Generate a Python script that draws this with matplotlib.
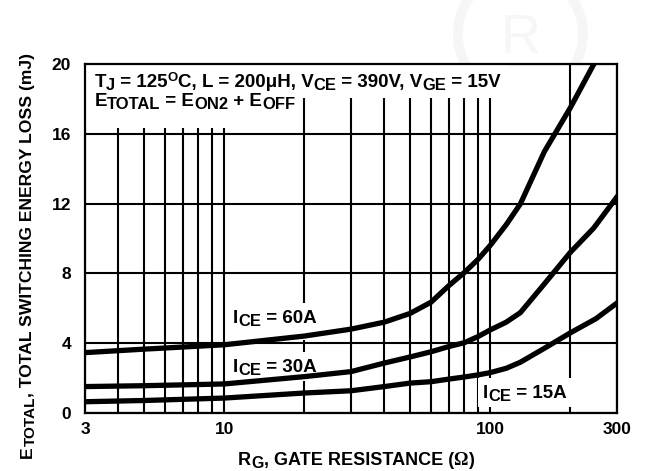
import matplotlib.pyplot as plt
from matplotlib.font_manager import FontProperties
from matplotlib.patches import Ellipse, Rectangle
from matplotlib.transforms import Affine2D, Bbox, IdentityTransform

plt.rcParams['font.family'] = ['Liberation Sans', 'DejaVu Sans']
plt.rcParams['font.weight'] = 'bold'

# gate resistance (ohm) vs total switching energy loss (mJ)
rg_60 = [3, 5, 10, 20, 30, 40, 50, 60, 70, 80, 90, 100, 115, 130, 160, 200, 245]
e_60 = [3.45, 3.65, 3.9, 4.4, 4.8, 5.2, 5.7, 6.35, 7.3, 8.05, 8.8, 9.6, 10.8, 12.0, 15.0, 17.5, 20.0]

rg_30 = [3, 5, 10, 20, 30, 40, 50, 60, 70, 80, 90, 100, 115, 130, 160, 200, 245, 300]
e_30 = [1.5, 1.55, 1.65, 2.07, 2.36, 2.85, 3.2, 3.5, 3.8, 4.02, 4.37, 4.75, 5.2, 5.75, 7.4, 9.2, 10.6, 12.4]

rg_15 = [3, 5, 10, 20, 30, 40, 50, 60, 70, 80, 90, 100, 115, 130, 160, 200, 250, 300]
e_15 = [0.63, 0.7, 0.84, 1.13, 1.26, 1.5, 1.7, 1.78, 1.93, 2.05, 2.17, 2.3, 2.55, 2.9, 3.7, 4.58, 5.4, 6.3]

x_ticks = [3, 10, 100, 300]
y_ticks = [0, 4, 8, 12, 16, 20]

fig = plt.figure(figsize=(6.48, 4.71), dpi=100)
ax = fig.add_axes([0.1312, 0.1238, 0.821, 0.7393])

# faint registered-mark watermark
fig.add_artist(Ellipse((0.803, 0.928), 0.193, 0.265, transform=fig.transFigure,
                       fill=False, ec='#f6f6f6', lw=7, zorder=-5))
fig.text(0.803, 0.918, 'R', fontsize=40, color='#f6f6f6', ha='center', va='center',
         fontweight='normal', zorder=-5)

for rg, e in [(rg_60, e_60), (rg_30, e_30), (rg_15, e_15)]:
    ax.plot(rg, e, color='black', lw=3.8, zorder=4)

ax.set_xscale('log')
ax.set_xlim(3, 300)
ax.set_ylim(0, 20)
ax.set_xticks(x_ticks)
ax.set_xticklabels([str(t) for t in x_ticks])
ax.set_yticks(y_ticks)
ax.grid(which='both', color='black', lw=1.5)
ax.tick_params(which='both', length=0, labelsize=12.5)
ax.tick_params(axis='y', pad=10)
ax.tick_params(axis='x', pad=7)
for s in ax.spines.values():
    s.set_linewidth(1.6)

renderer = fig.canvas.get_renderer()
k = fig.dpi / 72


def advance(s, fp):
    # width including side bearings and spaces, measured between two bars
    w1 = renderer.get_text_width_height_descent('|' + s + '|', fp, False)[0]
    w0 = renderer.get_text_width_height_descent('||', fp, False)[0]
    return w1 - w0


def rich(x, y, parts, size, transform, rotation=0, pad=None):
    """Draw text pieces side by side; kind is 'n', 'sub' or 'sup'.
    pad = (left, bottom, right, top) in pixels for a white backing box."""
    adv = 0.0
    bbs = []
    for s, kind in parts:
        if kind == 'sub':
            fs, rise = size * 0.88, -size * 0.15
        elif kind == 'sup':
            fs, rise = size * 0.7, size * 0.3
        else:
            fs, rise = size, 0
        fam = ['Liberation Serif'] if s == '\u03a9' else ['Liberation Sans', 'DejaVu Sans']
        if rotation == 0:
            off = Affine2D().translate(adv, rise * k)
        else:
            off = Affine2D().translate(-rise * k, adv)
        t = ax.text(x, y, s, fontsize=fs, family=fam, fontweight='bold',
                    transform=transform + off, ha='left', va='baseline',
                    rotation=rotation, rotation_mode='anchor', zorder=5)
        bbs.append(t.get_window_extent(renderer))
        adv += advance(s, FontProperties(family=fam, weight='bold', size=fs))
    if pad is not None:
        u = Bbox.union(bbs)
        l, b, r, tp = pad
        ax.add_patch(Rectangle((u.x0 - l, u.y0 - b), u.width + l + r, u.height + b + tp,
                               fc='white', ec='none', transform=IdentityTransform(),
                               zorder=2.2))


sz = 13.5
rich(3.25, 18.72, [('T', 'n'), ('J', 'sub'), (' = 125', 'n'), ('O', 'sup'),
                   ('C, L = 200\u03bcH, V', 'n'), ('CE', 'sub'), (' = 390V, V', 'n'),
                   ('GE', 'sub'), (' = 15V', 'n')], sz, ax.transData, pad=(9, 5, 8, 12))
rich(3.25, 17.6, [('E', 'n'), ('TOTAL', 'sub'), (' = E', 'n'), ('ON2', 'sub'),
                  (' + E', 'n'), ('OFF', 'sub')], sz, ax.transData, pad=(9, 16, 4, 2))
rich(10.8, 5.16, [('I', 'n'), ('CE', 'sub'), (' = 60A', 'n')], sz, ax.transData,
     pad=(5, 11, 5, 7))
rich(10.8, 2.34, [('I', 'n'), ('CE', 'sub'), (' = 30A', 'n')], sz, ax.transData,
     pad=(5, 3, 5, 7))
rich(94, 0.845, [('I', 'n'), ('CE', 'sub'), (' = 15A', 'n')], sz, ax.transData,
     pad=(5, 3, 5, 7))

# axis titles
rich(238 / 648, 6 / 471, [('R', 'n'), ('G', 'sub'), (', GATE RESISTANCE (', 'n'),
                          ('\u03a9', 'n'), (')', 'n')], 13, fig.transFigure)
rich(32 / 648, 13 / 471, [('E', 'n'), ('TOTAL', 'sub'),
                          (', TOTAL SWITCHING ENERGY LOSS (mJ)', 'n')],
     12.6, fig.transFigure, rotation=90)

fig.savefig('out.png', dpi=100)
